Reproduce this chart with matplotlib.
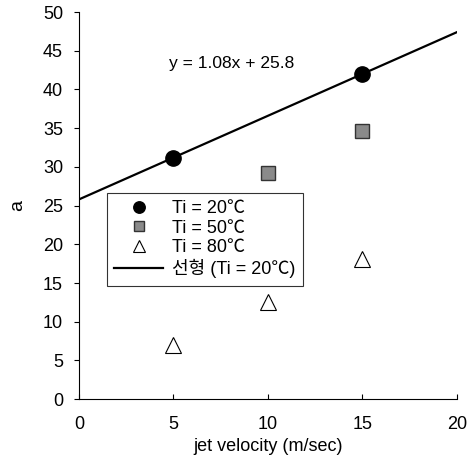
import matplotlib
matplotlib.use('Agg')
import matplotlib.pyplot as plt
import numpy as np

plt.rcParams['font.family'] = ['Liberation Sans', 'Noto Sans CJK KR', 'DejaVu Sans']

# 데이터
x20 = [5, 15]
y20 = [31.2, 42.0]
x50 = [10, 15]
y50 = [29.2, 34.6]
x80 = [5, 10, 15]
y80 = [7.0, 12.6, 18.1]
slope = 1.08
intercept = 25.8
xline = np.array([0, 20])

fig = plt.figure(figsize=(4.73, 4.62), dpi=100)
ax = fig.add_axes([0.167, 0.136, 0.799, 0.838])

ax.plot(xline, slope * xline + intercept, 'k-', lw=1.6, label='선형 (Ti = 20℃)', zorder=2)
ax.plot(x20, y20, 'o', color='black', ms=11, label='Ti = 20℃', zorder=3)
ax.plot(x50, y50, 's', mfc='#8a8a8a', mec='#333333', ms=10, label='Ti = 50℃', zorder=3)
ax.plot(x80, y80, '^', mfc='white', mec='black', mew=0.8, ms=11, label='Ti = 80℃', zorder=3)

ax.text(8.1, 43.3, 'y = 1.08x + 25.8', fontsize=12.5, ha='center', va='center')

ax.set_xlim(0, 20)
ax.set_ylim(0, 50)
ax.set_xticks(range(0, 21, 5))
ax.set_yticks(range(0, 51, 5))
ax.spines['top'].set_visible(False)
ax.spines['right'].set_visible(False)
ax.tick_params(axis='x', direction='in', labelsize=13, pad=12)
ax.tick_params(axis='y', direction='out', labelsize=13, pad=8)
ax.set_xlabel('jet velocity (m/sec)', fontsize=13, labelpad=4)
ax.set_ylabel('a', fontsize=14, labelpad=12)

h, l = ax.get_legend_handles_labels()
order = [1, 2, 3, 0]
leg = ax.legend([h[i] for i in order], [l[i] for i in order], loc='upper left',
                bbox_to_anchor=(0.074, 0.533), borderaxespad=0, fontsize=13,
                frameon=True, fancybox=False, edgecolor='black',
                handlelength=2.7, handletextpad=0.5,
                borderpad=0.4, labelspacing=0.15, markerscale=0.75)
leg.get_frame().set_linewidth(0.8)

fig.savefig('out.png', dpi=100)
